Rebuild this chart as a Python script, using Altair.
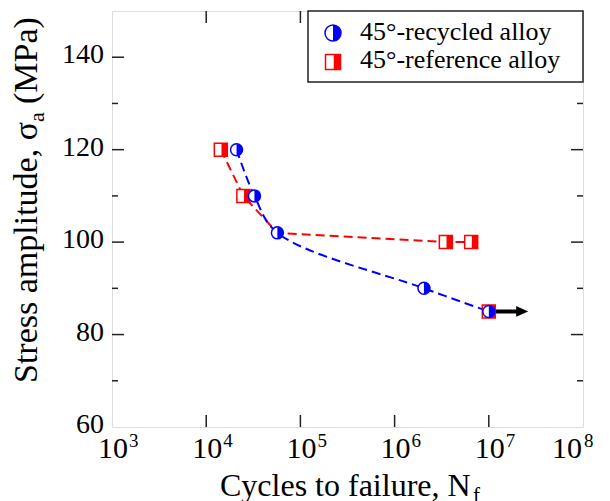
import altair as alt
import pandas as pd

# ---------------- data ----------------
rec_N = [2.1e4, 3.25e4, 5.7e4, 2.05e6, 1.0e7]
rec_S = [120, 110, 102, 90, 85]

ref_line_N = [1.43e4, 2.48e4, 5.7e4, 3.5e6, 6.5e6]
ref_line_S = [120, 110, 102, 100, 100]
ref_pts_N = [1.43e4, 2.48e4, 3.5e6, 6.5e6, 1.0e7]
ref_pts_S = [120, 110, 100, 100, 85]

arrow_N = [1.0e7, 2.26e7]
arrow_S = [85, 85]

x_decades = [1e3, 1e4, 1e5, 1e6, 1e7, 1e8]
x_exponents = ["3", "4", "5", "6", "7", "8"]
x_inner = [1e4, 1e5, 1e6, 1e7]
y_major = [60, 80, 100, 120, 140]
y_major_inner = [80, 100, 120, 140]
y_minor = [70, 90, 110, 130]

legend_labels = ["45°-recycled alloy", "45°-reference alloy"]
x_title = "Cycles to failure, N"
x_title_sub = "f"
y_title_a = "Stress amplitude, σ"
y_title_sub = "a"
y_title_b = "(MPa)"

# ---------------- style ----------------
W, H = 471, 416
BLUE = "#0000ff"
RED = "#ff0000"
FRAME = "#222222"
FONT = "Liberation Serif"

CIRCLE = "M-1,0 A1,1 0 1,1 1,0 A1,1 0 1,1 -1,0 Z"
CIRCLE_R = "M0,-1 A1,1 0 0,1 0,1 Z"
SQUARE = "M-1,-1 L1,-1 L1,1 L-1,1 Z"
SQUARE_R = "M0.1,-1 L1,-1 L1,1 L0.1,1 Z"
TRI = "M-1,-0.9 L1,0 L-1,0.9 Z"

xs = alt.Scale(type="log", domain=[1e3, 1e8], nice=False)
ys = alt.Scale(domain=[60, 150], nice=False, zero=False)


def X(f="N"):
    return alt.X(f + ":Q", scale=xs, axis=None)


def Y(f="S"):
    return alt.Y(f + ":Q", scale=ys, axis=None)


rec = pd.DataFrame({"N": rec_N, "S": rec_S})
ref_line = pd.DataFrame({"N": ref_line_N, "S": ref_line_S})
ref_pts = pd.DataFrame({"N": ref_pts_N, "S": ref_pts_S})
arrow = pd.DataFrame({"N": arrow_N, "S": arrow_S})
xdec = pd.DataFrame({"N": x_decades, "e": x_exponents})
xin = pd.DataFrame({"N": x_inner})
ymaj = pd.DataFrame({"S": y_major, "t": [str(v) for v in y_major]})
ymaj_in = pd.DataFrame({"S": y_major_inner})
ymin = pd.DataFrame({"S": y_minor})
one = pd.DataFrame({"a": [0]})

layers = []

# ticks (inward, on all four sides)
layers.append(alt.Chart(xin).mark_rule(color=FRAME, strokeWidth=1.5).encode(
    x=X(), y=alt.value(H), y2=alt.value(H - 12)))
layers.append(alt.Chart(xin).mark_rule(color=FRAME, strokeWidth=1.5).encode(
    x=X(), y=alt.value(0), y2=alt.value(12)))
for x0, x1 in [(0, 12), (W, W - 12)]:
    layers.append(alt.Chart(ymaj_in).mark_rule(color=FRAME, strokeWidth=1.5).encode(
        y=Y(), x=alt.value(x0), x2=alt.value(x1)))
for x0, x1 in [(0, 6), (W, W - 6)]:
    layers.append(alt.Chart(ymin).mark_rule(color=FRAME, strokeWidth=1.5).encode(
        y=Y(), x=alt.value(x0), x2=alt.value(x1)))

# tick labels
layers.append(alt.Chart(ymaj).mark_text(align="right", baseline="middle", dy=-2,
                                        fontSize=28, font=FONT, color="black").encode(
    y=Y(), x=alt.value(-8), text="t:N"))
layers.append(alt.Chart(xdec).transform_filter("datum.N < 1e8").mark_text(
    align="center", baseline="alphabetic", dx=1, fontSize=30, font=FONT, color="black").encode(
    x=X(), y=alt.value(447), text=alt.value("10")))
layers.append(alt.Chart(xdec).transform_filter("datum.N < 1e8").mark_text(
    align="left", baseline="alphabetic", dx=17, fontSize=19, font=FONT, color="black").encode(
    x=X(), y=alt.value(436), text="e:N"))
layers.append(alt.Chart(xdec).transform_filter("datum.N >= 1e8").mark_text(
    align="center", baseline="alphabetic", dx=-16, fontSize=30, font=FONT, color="black").encode(
    x=X(), y=alt.value(447), text=alt.value("10")))
layers.append(alt.Chart(xdec).transform_filter("datum.N >= 1e8").mark_text(
    align="left", baseline="alphabetic", dx=1, fontSize=19, font=FONT, color="black").encode(
    x=X(), y=alt.value(436), text="e:N"))

# axis titles
layers.append(alt.Chart(one).mark_text(align="left", baseline="alphabetic", fontSize=32,
                                       font=FONT, color="black", text=x_title).encode(
    x=alt.value(108), y=alt.value(485)))
layers.append(alt.Chart(one).mark_text(align="left", baseline="alphabetic", fontSize=21,
                                       font=FONT, color="black", text=x_title_sub).encode(
    x=alt.value(361), y=alt.value(491)))
layers.append(alt.Chart(one).mark_text(align="left", baseline="alphabetic", angle=270, fontSize=34,
                                       font=FONT, color="black", text=y_title_a).encode(
    x=alt.value(-75), y=alt.value(372)))
layers.append(alt.Chart(one).mark_text(align="left", baseline="alphabetic", angle=270, fontSize=22,
                                       font=FONT, color="black", text=y_title_sub).encode(
    x=alt.value(-68), y=alt.value(111)))
layers.append(alt.Chart(one).mark_text(align="left", baseline="alphabetic", angle=270, fontSize=34,
                                       font=FONT, color="black", text=y_title_b).encode(
    x=alt.value(-75), y=alt.value(93)))

# series lines
layers.append(alt.Chart(ref_line).mark_line(color=RED, strokeWidth=2, strokeDash=[9, 5]).encode(
    x=X(), y=Y()))
layers.append(alt.Chart(rec).mark_line(color=BLUE, strokeWidth=2, strokeDash=[9, 5],
                                       interpolate="catmull-rom").encode(x=X(), y=Y()))

# run-out arrow
layers.append(alt.Chart(arrow).mark_line(color="black", strokeWidth=4).encode(x=X(), y=Y()))
layers.append(alt.Chart(arrow.iloc[[1]]).mark_point(shape=TRI, size=144, filled=True,
                                                    color="black", opacity=1).encode(x=X(), y=Y()))

# markers: reference (half-filled squares)
layers.append(alt.Chart(ref_pts).mark_point(shape=SQUARE, size=169, fill="white", stroke=RED,
                                            strokeWidth=1.5, opacity=1, fillOpacity=1).encode(x=X(), y=Y()))
layers.append(alt.Chart(ref_pts).mark_point(shape=SQUARE_R, size=169, filled=True, color=RED,
                                            opacity=1).encode(x=X(), y=Y()))
# markers: recycled (half-filled circles)
layers.append(alt.Chart(rec).mark_point(shape=CIRCLE, size=144, fill="white", stroke=BLUE,
                                        strokeWidth=1.5, opacity=1, fillOpacity=1).encode(x=X(), y=Y()))
layers.append(alt.Chart(rec).mark_point(shape=CIRCLE_R, size=144, filled=True, color=BLUE,
                                        opacity=1).encode(x=X(), y=Y()))

# legend box
layers.append(alt.Chart(one).mark_rect(fill="white", stroke=FRAME, strokeWidth=1.5).encode(
    x=alt.value(196), x2=alt.value(W), y=alt.value(0), y2=alt.value(71)))
layers.append(alt.Chart(one).mark_point(shape=CIRCLE, size=256, fill="white", stroke=BLUE,
                                        strokeWidth=1.5, opacity=1).encode(x=alt.value(221), y=alt.value(22)))
layers.append(alt.Chart(one).mark_point(shape=CIRCLE_R, size=256, filled=True, color=BLUE,
                                        opacity=1).encode(x=alt.value(221), y=alt.value(22)))
layers.append(alt.Chart(one).mark_point(shape=SQUARE, size=225, fill="white", stroke=RED,
                                        strokeWidth=1.5, opacity=1).encode(x=alt.value(221), y=alt.value(51)))
layers.append(alt.Chart(one).mark_point(shape=SQUARE_R, size=225, filled=True, color=RED,
                                        opacity=1).encode(x=alt.value(221), y=alt.value(51)))
layers.append(alt.Chart(one).mark_text(align="left", baseline="alphabetic", fontSize=26, font=FONT,
                                       color="black", text=legend_labels[0]).encode(
    x=alt.value(248), y=alt.value(29)))
layers.append(alt.Chart(one).mark_text(align="left", baseline="alphabetic", fontSize=26, font=FONT,
                                       color="black", text=legend_labels[1]).encode(
    x=alt.value(248), y=alt.value(57)))

chart = alt.layer(*layers).properties(
    width=W, height=H,
    autosize=alt.AutoSizeParams(type="none"),
    padding={"left": 104, "top": 3, "right": 10, "bottom": 74},
).configure_view(stroke=FRAME, strokeWidth=1.5).configure(background="white")

chart.save("out.html", embed_options={"renderer": "svg", "actions": False})
